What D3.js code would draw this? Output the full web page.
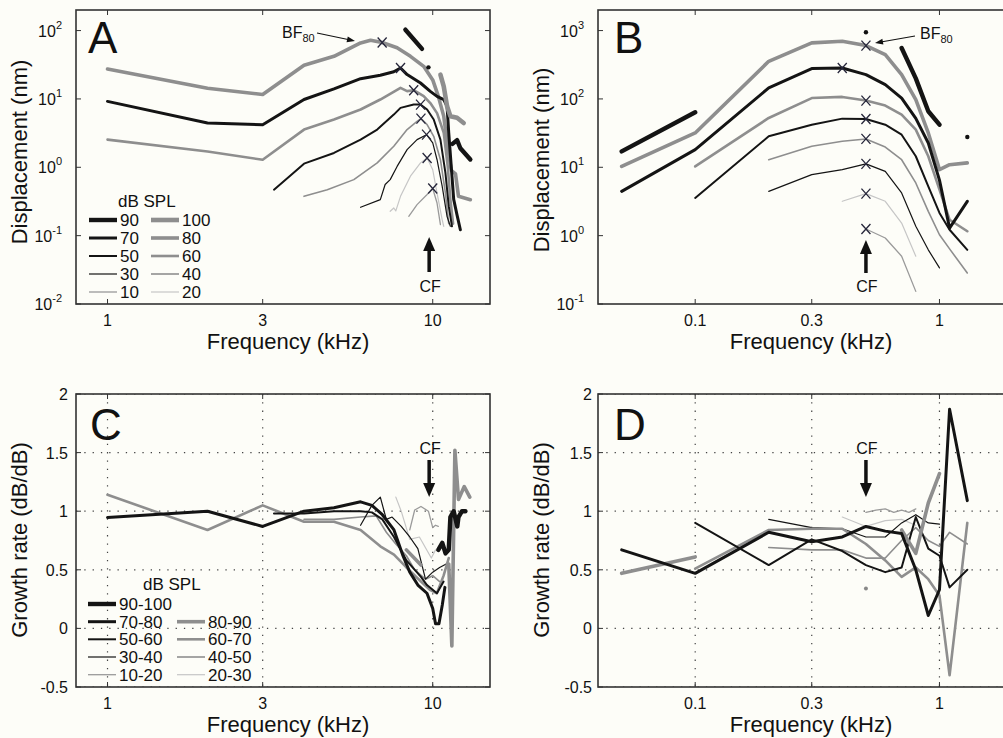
<!DOCTYPE html>
<html><head><meta charset="utf-8">
<script src="https://cdn.jsdelivr.net/npm/d3@7"></script>
<style>
html,body{margin:0;padding:0;background:#fdfdf8;}
svg{display:block;font-family:"Liberation Sans",Arial,sans-serif;}
</style></head><body>
<svg id="c" width="1003" height="738"></svg>
<script>
// ---------------- DATA ----------------
// Panel A: displacement (nm) vs frequency (kHz), one array per level (dB SPL); null = gap
const A_100 = [[10.56,22.7],[10.81,15.3],[11.07,7.8],[11.33,5.6],[11.88,5.3],[12.45,4.45]];
const A_90  = [[8.24,103],[9.27,54],null,[11.5,2.2],[11.88,2.5],[12.16,1.9],[13.05,1.3]];
const A_80  = [[1.0,27.4],[2.03,14.3],[3.0,11.6],[4.02,31],[4.97,42],[6.0,66],[6.44,72],[6.99,67],[7.77,56],[8.54,42],[9.38,30],[10.0,19],[10.4,11],[10.81,5.6],[11.07,2.3],[11.4,0.9],[11.75,0.8],[12.0,0.376],[13.05,0.336]];
const A_70  = [[1.0,9.2],[2.03,4.45],[3.0,4.2],[4.02,9.8],[4.97,14],[6.0,19.8],[6.9,22.2],[7.59,25],[7.96,28.4],[8.34,22.7],[9.17,17.1],[9.83,12.9],[10.31,10.9],[10.81,9.8],[11.07,7.8],[11.2,3.2],[11.4,1.03],[11.6,0.34],[11.88,0.2],[12.16,0.122]];
const A_60  = [[1.0,2.54],[2.03,1.7],[3.0,1.29],[4.02,3.56],[4.97,5.0],[6.0,7.0],[6.9,9.8],[7.96,14.5],[8.34,13],[8.74,13.4],[9.38,11],[9.83,8.7],[10.31,6.2],[10.81,3.2],[11.12,1.03],[11.33,0.34],[11.55,0.15]];
const A_50  = [[3.25,0.471],[4.02,1.13],[4.97,1.62],[6.0,2.54],[6.75,3.56],[7.59,5.9],[7.96,7.4],[8.74,8.3],[9.17,8.26],[9.61,7.0],[10.07,5.0],[10.56,2.54],[10.94,0.83],[11.2,0.27],[11.46,0.137]];
const A_40  = [[4.02,0.376],[4.74,0.47],[5.72,0.66],[6.75,1.16],[7.59,2.03],[8.34,3.56],[8.95,4.7],[9.2,5.16],[9.61,4.21],[10.07,2.84],[10.56,1.29],[10.94,0.42],[11.2,0.15]];
const A_30  = [[6.0,0.26],[6.9,0.336],[7.14,0.56],[7.4,0.66],[7.77,1.03],[8.34,1.81],[8.95,2.54],[9.57,3.0],[10.0,2.27],[10.31,1.29],[10.69,0.53],[11.07,0.19],[11.33,0.137]];
const A_20  = [[7.4,0.227],[7.59,0.254],[7.7,0.23],[7.96,0.376],[8.54,0.74],[9.17,1.16],[9.61,1.37],[10.0,0.92],[10.31,0.42],[10.69,0.171],[10.81,0.137]];
const A_10  = [[8.44,0.192],[8.95,0.284],[9.61,0.4],[10.0,0.49],[10.31,0.3],[10.56,0.145]];
const A_bf  = [[6.99,67],[7.96,28.4],[8.74,13.4],[9.17,8.26],[9.2,5.16],[9.57,3.0],[9.61,1.37],[10.0,0.49]];
const A_dots = [[9.7,29]];

// Panel B
const B_90 = [[0.05,17.1],[0.1,63.8],null,[0.7,557],[0.8,200],[0.9,66],[1.0,42]];
const B_80 = [[0.05,10.3],[0.1,31.8],[0.2,355],[0.3,661],[0.4,698],[0.5,603],[0.6,445],[0.7,227],[0.8,98],[0.9,31.8],[1.0,9.25],[1.1,10.9],[1.3,11.6]];
const B_70 = [[0.05,4.45],[0.1,18.1],[0.2,145],[0.3,278],[0.4,284],[0.5,227],[0.6,162],[0.7,103],[0.8,52],[0.9,22.7],[1.0,6.5],[1.1,1.29],[1.3,3.18]];
const B_60 = [[0.1,10.3],[0.2,52.7],[0.3,103],[0.4,107],[0.5,94.6],[0.6,80],[0.7,59],[0.8,35.6],[0.9,14.5],[1.0,4.71],[1.1,1.71],[1.3,1.16]];
const B_50 = [[0.1,3.56],[0.2,28.4],[0.3,42],[0.4,51.5],[0.5,50.9],[0.6,42],[0.7,30],[0.8,14.5],[0.9,5.27],[1.0,2.15],[1.1,1.22],[1.3,0.62]];
const B_40 = [[0.2,12.9],[0.3,20.3],[0.4,24],[0.5,26],[0.6,19.8],[0.7,12.9],[0.8,5.9],[0.9,2.27],[1.0,1.03],[1.1,0.64],[1.3,0.284]];
const B_30 = [[0.2,4.45],[0.3,7.8],[0.4,9.25],[0.5,11.2],[0.6,8.7],[0.7,4.21],[0.8,1.37],[0.9,0.62],[1.0,0.337]];
const B_20 = [[0.4,3.18],[0.5,4.12],[0.6,3.18],[0.7,1.53],[0.8,0.5]];
const B_10 = [[0.5,1.25],[0.6,0.924],[0.7,0.5],[0.8,0.153]];
const B_bf = [[0.4,284],[0.5,603],[0.5,94.6],[0.5,50.9],[0.5,26],[0.5,11.2],[0.5,4.12],[0.5,1.25]];
const B_dots = [[0.5,945],[1.3,27.8]];

// Panel C: growth rate (dB/dB)
const C_90_100 = [[10.4,0.67],[10.7,0.73],[10.95,0.64],[11.2,0.67],[11.33,0.95],[11.6,1.0],[11.9,0.87],[12.0,0.95],[12.3,1.0],[12.6,1.0]];
const C_80_90  = [[8.3,0.67],[9.2,0.54],null,[11.2,0.55],[11.45,-0.15],[11.7,1.52],[12.0,1.1],[12.5,1.21],[13.0,1.12]];
const C_70_80  = [[1.0,0.946],[2.03,1.0],[3.0,0.87],[4.02,1.0],[4.97,1.03],[6.0,1.08],[6.5,1.05],[7.0,0.97],[7.6,0.84],[8.1,0.62],[8.5,0.48],[9.0,0.37],[9.6,0.3],[10.0,0.17],[10.2,0.04],[10.45,0.04],[10.7,0.2],[10.9,0.35]];
const C_60_70  = [[1.0,1.14],[2.03,0.84],[3.0,1.05],[4.02,0.91],[4.97,0.91],[6.0,0.84],[6.9,0.7],[7.6,0.63],[8.3,0.52],[9.2,0.4],[9.8,0.33],[10.3,0.3],[10.8,0.45],[11.2,0.6]];
const C_50_60  = [[3.25,0.98],[4.02,0.98],[4.97,1.0],[6.0,1.0],[6.5,0.99],[7.0,0.93],[7.6,0.78],[8.3,0.58],[9.2,0.44],[9.6,0.37],[10.3,0.3],[10.8,0.4]];
const C_40_50  = [[4.02,0.93],[4.97,0.93],[6.0,0.95],[6.7,0.96],[7.2,0.82],[7.7,0.72],[8.3,0.62],[8.8,0.5],[9.5,0.42],[10.0,0.45],[10.5,0.4]];
const C_30_40  = [[6.0,0.88],[6.5,1.05],[6.9,1.12],[7.2,0.93],[7.5,0.95],[8.0,0.87],[8.5,0.78],[9.0,0.68],[9.5,0.42],[10.0,0.48],[10.5,0.52],[11.0,0.55]];
const C_20_30  = [[7.7,1.12],[8.0,1.0],[8.5,0.76],[9.1,0.78],[9.9,0.6],[10.2,0.67]];
const C_10_20  = [[8.5,0.84],[8.8,1.01],[9.2,1.04],[9.7,1.0],[10.0,0.86],[10.2,0.88],[10.4,0.87]];

// Panel D
const D_80_90 = [[0.05,0.47],[0.1,0.61],null,[0.7,0.84],[0.8,0.64],[0.9,1.07],[1.0,1.32]];
const D_70_80 = [[0.05,0.67],[0.1,0.47],[0.2,0.82],[0.3,0.74],[0.4,0.78],[0.5,0.87],[0.6,0.83],[0.7,0.81],[0.8,0.5],[0.9,0.11],[1.0,0.33],[1.1,1.87],[1.3,1.09]];
const D_60_70 = [[0.1,0.51],[0.2,0.84],[0.3,0.85],[0.4,0.85],[0.5,0.72],[0.6,0.58],[0.7,0.44],[0.8,0.52],[0.9,0.42],[1.0,0.28],[1.1,-0.4],[1.3,0.9]];
const D_50_60 = [[0.1,0.9],[0.2,0.54],[0.3,0.76],[0.4,0.66],[0.5,0.54],[0.6,0.48],[0.7,0.52],[0.8,0.95],[0.9,0.68],[1.0,0.62],[1.1,0.35],[1.3,0.5]];
const D_40_50 = [[0.2,0.69],[0.3,0.67],[0.4,0.67],[0.5,0.6],[0.6,0.6],[0.7,0.75],[0.8,0.86],[0.9,0.75],[1.0,0.7],[1.1,0.82],[1.3,0.72]];
const D_30_40 = [[0.2,0.93],[0.3,0.86],[0.4,0.85],[0.5,0.78],[0.6,0.78],[0.7,0.9],[0.8,0.97],[0.9,0.9],[1.0,0.89]];
const D_20_30 = [[0.4,0.95],[0.5,0.87],[0.6,0.92],[0.7,0.93],[0.8,0.88]];
const D_10_20 = [[0.5,0.99],[0.55,1.01],[0.6,1.02],[0.65,0.99],[0.7,1.01],[0.75,0.99],[0.8,1.02]];
const D_dots = [[0.5,0.34]];

// ticks
const xTicksA = [1,3,10], xLabelsA = ["1","3","10"];
const xTicksB = [0.1,0.3,1], xLabelsB = ["0.1","0.3","1"];
const yTicksA = [0.01,0.1,1,10,100], yExpA = ["-2","-1","0","1","2"];
const yTicksB = [0.1,1,10,100,1000], yExpB = ["-1","0","1","2","3"];
const yTicksCD = [-0.5,0,0.5,1,1.5,2], yLabelsCD = ["-0.5","0","0.5","1","1.5","2"];
const cfA = 9.75, cfB = 0.5;

// legends
const legA_left = ["90","70","50","30","10"], legA_right = ["100","80","60","40","20"];
const legC_left = ["90-100","70-80","50-60","30-40","10-20"], legC_right = ["","80-90","60-70","40-50","20-30"];

// ---------------- STYLES ----------------
const BLK = "#141414", GRY = "#8e8e8e", LGT = "#c6c6c6", MID = "#9a9a9a";
const styleLvl = {
  "100":{c:GRY,w:4.6}, "90":{c:BLK,w:4.4}, "80":{c:GRY,w:3.6}, "70":{c:BLK,w:3.0},
  "60":{c:GRY,w:2.6}, "50":{c:BLK,w:2.0}, "40":{c:GRY,w:1.6}, "30":{c:BLK,w:1.2},
  "20":{c:LGT,w:1.2}, "10":{c:MID,w:1.3}
};
const styleGr = {
  "90-100":styleLvl["90"], "80-90":styleLvl["80"], "70-80":styleLvl["70"], "60-70":styleLvl["60"],
  "50-60":styleLvl["50"], "40-50":styleLvl["40"], "30-40":styleLvl["30"], "20-30":styleLvl["20"], "10-20":styleLvl["10"]
};

const svg = d3.select("#c");
svg.append("rect").attr("width",1003).attr("height",738).attr("fill","#fdfdf8");
let clipId = 0;

function drawPanel(p){
  const g = svg.append("g");
  const x = (p.xlog ? d3.scaleLog() : d3.scaleLinear()).domain(p.xDomain).range([p.left,p.right]);
  const y = (p.ylog ? d3.scaleLog() : d3.scaleLinear()).domain(p.yDomain).range([p.bottom,p.top]);
  const id = "clip"+(clipId++);
  g.append("clipPath").attr("id",id).append("rect")
    .attr("x",p.left).attr("y",p.top).attr("width",p.right-p.left).attr("height",p.bottom-p.top);
  const plot = g.append("g").attr("clip-path",`url(#${id})`);
  if(p.grid){
    p.xTicks.forEach(t=>plot.append("line").attr("x1",x(t)).attr("x2",x(t)).attr("y1",p.top).attr("y2",p.bottom)
      .attr("stroke","#444").attr("stroke-width",1.2).attr("stroke-dasharray","1.3,7"));
    p.yTicks.forEach(t=>plot.append("line").attr("y1",y(t)).attr("y2",y(t)).attr("x1",p.left).attr("x2",p.right)
      .attr("stroke","#444").attr("stroke-width",1.2).attr("stroke-dasharray","1.3,7"));
  }
  const line = d3.line().defined(d=>d!==null).x(d=>x(d[0])).y(d=>y(d[1]));
  p.curves.forEach(cv=>{
    plot.append("path").attr("d",line(cv.data)).attr("fill","none")
      .attr("stroke",cv.s.c).attr("stroke-width",cv.s.w).attr("stroke-linejoin","round").attr("stroke-linecap","round");
  });
  (p.markers||[]).forEach(m=>{
    const cx=x(m[0]), cy=y(m[1]);
    plot.append("path").attr("d",`M${cx-4.5},${cy-5}L${cx+4.5},${cy+5}M${cx-4.5},${cy+5}L${cx+4.5},${cy-5}`)
      .attr("stroke","#26263a").attr("stroke-width",1.3).attr("fill","none");
  });
  (p.dots||[]).forEach(d=>{
    plot.append("circle").attr("cx",x(d[0])).attr("cy",y(d[1])).attr("r",p.dotR||2.2).attr("fill",p.dotC||"#111");
  });
  // box
  g.append("rect").attr("x",p.left).attr("y",p.top).attr("width",p.right-p.left).attr("height",p.bottom-p.top)
    .attr("fill","none").attr("stroke","#333").attr("stroke-width",1.6);
  // ticks
  p.xTicks.forEach((t,i)=>{
    g.append("line").attr("x1",x(t)).attr("x2",x(t)).attr("y1",p.bottom).attr("y2",p.bottom-5).attr("stroke","#333");
    g.append("line").attr("x1",x(t)).attr("x2",x(t)).attr("y1",p.top).attr("y2",p.top+5).attr("stroke","#333");
    g.append("text").attr("x",x(t)).attr("y",p.bottom+22).attr("text-anchor","middle")
      .attr("font-size",16).attr("fill","#111").text(p.xLabels[i]);
  });
  p.yTicks.forEach((t,i)=>{
    g.append("line").attr("x1",p.left).attr("x2",p.left+5).attr("y1",y(t)).attr("y2",y(t)).attr("stroke","#333");
    g.append("line").attr("x1",p.right).attr("x2",p.right-5).attr("y1",y(t)).attr("y2",y(t)).attr("stroke","#333");
    const tx = g.append("text").attr("x",p.left-p.yLabGap).attr("y",y(t)+6).attr("text-anchor","end")
      .attr("font-size",16).attr("fill","#111");
    if(p.yExp){
      tx.text("10");
      tx.append("tspan").attr("dy",-8).attr("font-size",11).text(p.yExp[i]);
    } else tx.text(p.yLabels[i]);
  });
  // titles
  g.append("text").attr("x",p.xTitleX).attr("y",p.bottom+45).attr("text-anchor","middle")
    .attr("font-size",22).attr("fill","#111").text("Frequency (kHz)");
  g.append("text").attr("transform",`translate(${p.yTitleX},${p.yTitleY}) rotate(-90)`).attr("text-anchor","middle")
    .attr("font-size",22).attr("fill","#111").text(p.yTitle);
  g.append("text").attr("x",p.left+p.letterDx).attr("y",p.top+p.letterDy).attr("font-size",44).attr("fill","#111").text(p.letter);
  return {x,y,g};
}

function curvesFrom(list, styles){ return list.map(([k,d])=>({data:d,s:styles[k]})); }

// ---------- A ----------
const pA = drawPanel({
  left:76,right:490,top:10,bottom:304,xlog:true,ylog:true,xDomain:[0.8,15],yDomain:[0.01,200],
  xTicks:xTicksA,xLabels:xLabelsA,yTicks:yTicksA,yExp:yExpA,yLabGap:14,
  curves:curvesFrom([["10",A_10],["20",A_20],["40",A_40],["30",A_30],["60",A_60],["50",A_50],["80",A_80],["70",A_70],["100",A_100],["90",A_90]],styleLvl),
  markers:A_bf,dots:A_dots,xTitleX:288,yTitleX:27,yTitleY:152,yTitle:"Displacement (nm)",letter:"A",letterDx:12,letterDy:43
});
// ---------- B ----------
const pB = drawPanel({
  left:598,right:1013,top:10,bottom:304,xlog:true,ylog:true,xDomain:[0.04,2],yDomain:[0.1,2000],
  xTicks:xTicksB,xLabels:xLabelsB,yTicks:yTicksB,yExp:yExpB,yLabGap:14,
  curves:curvesFrom([["10",B_10],["20",B_20],["40",B_40],["30",B_30],["60",B_60],["50",B_50],["80",B_80],["70",B_70],["90",B_90]],styleLvl),
  markers:B_bf,dots:B_dots,xTitleX:811,yTitleX:549,yTitleY:160,yTitle:"Displacement (nm)",letter:"B",letterDx:16,letterDy:43
});
// ---------- C ----------
const pC = drawPanel({
  left:76,right:490,top:394,bottom:687,xlog:true,ylog:false,xDomain:[0.8,15],yDomain:[-0.5,2],grid:true,
  xTicks:xTicksA,xLabels:xLabelsA,yTicks:yTicksCD,yLabels:yLabelsCD,yLabGap:8,
  curves:curvesFrom([["10-20",C_10_20],["20-30",C_20_30],["40-50",C_40_50],["30-40",C_30_40],["60-70",C_60_70],["50-60",C_50_60],["80-90",C_80_90],["70-80",C_70_80],["90-100",C_90_100]],styleGr),
  xTitleX:288,yTitleX:27,yTitleY:540,yTitle:"Growth rate (dB/dB)",letter:"C",letterDx:14,letterDy:46
});
// ---------- D ----------
const pD = drawPanel({
  left:598,right:1013,top:394,bottom:687,xlog:true,ylog:false,xDomain:[0.04,2],yDomain:[-0.5,2],grid:true,
  xTicks:xTicksB,xLabels:xLabelsB,yTicks:yTicksCD,yLabels:yLabelsCD,yLabGap:6,
  curves:curvesFrom([["10-20",D_10_20],["20-30",D_20_30],["40-50",D_40_50],["30-40",D_30_40],["60-70",D_60_70],["50-60",D_50_60],["80-90",D_80_90],["70-80",D_70_80]],styleGr),
  dots:D_dots,dotC:"#888",dotR:2,
  xTitleX:811,yTitleX:549,yTitleY:540,yTitle:"Growth rate (dB/dB)",letter:"D",letterDx:16,letterDy:46
});

// ---------- legends ----------
function legend(g, rows, leftKeys, rightKeys, styles, lx, rx, titleX, titleY){
  g.append("text").attr("x",titleX).attr("y",titleY).attr("font-size",17).attr("fill","#111").text("dB SPL");
  rows.forEach((ry,i)=>{
    [[leftKeys[i],lx],[rightKeys[i],rx]].forEach(([k,x0])=>{
      if(!k) return;
      const s = styles[k];
      g.append("line").attr("x1",x0).attr("x2",x0+28).attr("y1",ry).attr("y2",ry).attr("stroke",s.c).attr("stroke-width",s.w);
      g.append("text").attr("x",x0+31).attr("y",ry+6).attr("font-size",17).attr("fill","#111").text(k);
    });
  });
}
legend(pA.g,[220,238,256,274,292],legA_left,legA_right,styleLvl,89,151,118,207);
legend(pC.g,[604,621.7,639.3,657,674.7],legC_left,legC_right,styleGr,88,177,143,590);

// ---------- annotations ----------
function arrowUp(g,x,tipY,endY){
  g.append("line").attr("x1",x).attr("x2",x).attr("y1",tipY+10).attr("y2",endY).attr("stroke","#111").attr("stroke-width",3.5);
  g.append("path").attr("d",`M${x},${tipY}L${x-6},${tipY+14}L${x+6},${tipY+14}Z`).attr("fill","#111");
}
function arrowDown(g,x,startY,tipY){
  g.append("line").attr("x1",x).attr("x2",x).attr("y1",startY).attr("y2",tipY-10).attr("stroke","#111").attr("stroke-width",3.5);
  g.append("path").attr("d",`M${x},${tipY}L${x-6},${tipY-14}L${x+6},${tipY-14}Z`).attr("fill","#111");
}
function cfText(g,x,y){ g.append("text").attr("x",x).attr("y",y).attr("text-anchor","middle").attr("font-size",16).attr("fill","#111").text("CF"); }

arrowUp(pA.g,pA.x(cfA),237,272); cfText(pA.g,pA.x(cfA)+1,292);
arrowUp(pB.g,pB.x(cfB),240,273); cfText(pB.g,pB.x(cfB)+1,292);
arrowDown(pC.g,pC.x(cfA),460,497); cfText(pC.g,pC.x(cfA)+1,454);
arrowDown(pD.g,pD.x(cfB),460,497); cfText(pD.g,pD.x(cfB)+1,454);

function bfLabel(g,x,y){
  const t = g.append("text").attr("x",x).attr("y",y).attr("font-size",16).attr("fill","#111").text("BF");
  t.append("tspan").attr("dy",4).attr("font-size",11).text("80");
}
function thinArrow(g,x1,y1,x2,y2){
  const a = Math.atan2(y2-y1,x2-x1), L=8, W=3;
  g.append("line").attr("x1",x1).attr("y1",y1).attr("x2",x2-Math.cos(a)*6).attr("y2",y2-Math.sin(a)*6).attr("stroke","#111").attr("stroke-width",1.1);
  const bx=x2-Math.cos(a)*L, by=y2-Math.sin(a)*L;
  g.append("path").attr("d",`M${x2},${y2}L${bx-Math.sin(a)*W},${by+Math.cos(a)*W}L${bx+Math.sin(a)*W},${by-Math.cos(a)*W}Z`).attr("fill","#111");
}
bfLabel(pA.g,282,38); thinArrow(pA.g,317,33,355,41);
bfLabel(pB.g,920,39); thinArrow(pB.g,915,36,875,43);
</script>
</body></html>
